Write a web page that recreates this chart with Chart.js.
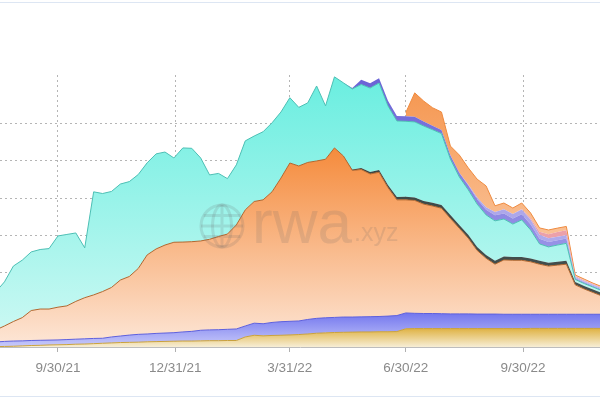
<!DOCTYPE html>
<html>
<head>
<meta charset="utf-8">
<script src="https://cdn.jsdelivr.net/npm/chart.js@4.4.0/dist/chart.umd.min.js"></script>
<style>
  html, body { margin: 0; padding: 0; background: #fff; }
  #wrap { width: 600px; height: 399px; }
</style>
</head>
<body>
<div id="wrap"><canvas id="activeLoans" width="600" height="399"></canvas></div>
<script>
// weekly snapshots, active loans in $M per protocol (stack order bottom -> top)
const weekDates = [
  '2021-08-12','2021-08-19','2021-08-26','2021-09-02','2021-09-09','2021-09-16','2021-09-23','2021-09-30',
  '2021-10-07','2021-10-14','2021-10-21','2021-10-28','2021-11-04','2021-11-11','2021-11-18','2021-11-25',
  '2021-12-02','2021-12-09','2021-12-16','2021-12-23','2021-12-30','2022-01-06','2022-01-13','2022-01-20',
  '2022-01-27','2022-02-03','2022-02-10','2022-02-17','2022-02-24','2022-03-03','2022-03-10','2022-03-17',
  '2022-03-24','2022-03-31','2022-04-07','2022-04-14','2022-04-21','2022-04-28','2022-05-05','2022-05-12',
  '2022-05-19','2022-05-26','2022-06-02','2022-06-09','2022-06-16','2022-06-23','2022-06-30','2022-07-07',
  '2022-07-14','2022-07-21','2022-07-28','2022-08-04','2022-08-11','2022-08-18','2022-08-25','2022-09-01',
  '2022-09-08','2022-09-15','2022-09-22','2022-09-29','2022-10-06','2022-10-13','2022-10-20','2022-10-27',
  '2022-11-03','2022-11-10','2022-11-17','2022-11-24','2022-12-01'
];
const quarterTicks = ['2021-09-30', '2021-12-31', '2022-03-31', '2022-06-30', '2022-09-30'];

const goldLoans = [2,3,4,6,8,9,11,12,13,15, 16,18,20,22,24,25,26,28,29,30, 31,32,32,33,34,34,35,35,54,63,
  60,62,63,65,67,70,74,76,78,79, 80,81,81,82,82,83,98,99,99,99, 99,99,99,99,99,99,99,99,99,99,
  100,100,100,100,100,100,100,100,100];
const blueLoans = [25,27,28,27,27,27,26,26,27,27, 28,28,27,32,35,39,42,42,44,45, 46,49,52,57,58,59,60,62,59,65,
  65,70,73,73,73,78,80,81,81,82, 81,81,82,82,84,86,85,82,81,81, 80,79,79,79,78,78,78,77,77,77,
  76,76,76,76,76,76,76,76,76];
const orangeLoans = [64,83,105,125,161,168,167,176,181,203, 221,234,251,266,301,315,354,425,454,473,
  486,483,482,480,487,501,512,559,624,654, 666,702,772,851,833,844,846,852,911,866,
  788,792,767,775,691,622,608,607,588,578, 567,513,460,407,342,300,268,292,290,290,
  282,269,259,264,269,158,136,117,98];
const darkLoans = [0,0,0,0,0,0,0,0,0,0, 0,0,0,0,0,0,0,0,0,0, 0,0,0,0,0,0,0,0,0,0, 0,0,0,0,0,0,0,0,0,0,
  5,8,10,12,14,15,16,16,17,17, 17,18,18,18,18,18,18,18,18,18, 18,18,18,18,18,16,16,16,16];
const cyanLoans = [204,237,298,309,315,320,325,383,384,368, 268,554,527,516,516,510,505,495,511,500,
  453,506,502,446,346,339,298,323,371,352, 366,371,355,351,315,320,403,287,382,393,
  433,449,452,468,425,409,406,406,403,393, 384,301,258,242,231,215,215,202,177,199,
  153,91,85,90,94,13,13,13,13];
const purpleLoans = [0,0,0,0,0,0,0,0,0,0, 0,0,0,0,0,0,0,0,0,0, 0,0,0,0,0,0,0,0,0,0, 0,0,0,0,0,0,0,0,0,0,
  5,25,25,25,27,27,27,27,24,21, 19,21,22,24,26,28,30,30,30,30, 30,28,26,26,26,8,8,7,7];
const lavenderLoans = [0,0,0,0,0,0,0,0,0,0, 0,0,0,0,0,0,0,0,0,0, 0,0,0,0,0,0,0,0,0,0, 0,0,0,0,0,0,0,0,0,0,
  0,0,0,0,0,0,0,0,0,0, 0,0,0,5,10,13,18,22,24,26, 25,22,20,18,18,5,5,5,5];
const pinkLoans = [0,0,0,0,0,0,0,0,0,0, 0,0,0,0,0,0,0,0,0,0, 0,0,0,0,0,0,0,0,0,0, 0,0,0,0,0,0,0,0,0,0,
  0,0,0,0,0,0,0,0,0,0, 0,0,0,0,0,0,0,0,0,3, 8,15,22,26,27,5,5,4,4];
const topOrangeLoans = [null,null,null,null,null,null,null,null,null,null, null,null,null,null,null,null,null,null,null,null,
  null,null,null,null,null,null,null,null,null,null, null,null,null,null,null,null,null,null,null,null,
  null,null,null,null,null,null,20,129,110,97, 97,49,96,89,98,115,33,34,32,32,
  28,21,23,21,20,6,6,5,5];

const xMin = Date.UTC(2021, 7, 15, 12);
const xMax = Date.UTC(2022, 10, 29, 10);
const yMax = 1462;

// layers that start later get no outline, otherwise the empty part draws a line
const layers = [
  { label: 'gold',       data: goldLoans,      top: '#dfb243', bottom: '#f7eed6', line: '#c9a13d', width: 1 },
  { label: 'blue',       data: blueLoans,      top: '#7276ee', bottom: '#c9cbfa', line: '#5e60dc', width: 1 },
  { label: 'orange',     data: orangeLoans,    top: '#f58b3c', bottom: '#fde7d8', line: '#b0672f', width: 1 },
  { label: 'dark',       data: darkLoans,      top: '#3a4645', bottom: '#475352', line: '#2f3a39', width: 0 },
  { label: 'cyan',       data: cyanLoans,      top: '#6aeee0', bottom: '#d0f9f4', line: '#4cbfb4', width: 1 },
  { label: 'purple',     data: purpleLoans,    top: '#6a63d6', bottom: '#b2aef0', line: '#5048c0', width: 0 },
  { label: 'lavender',   data: lavenderLoans,  top: '#a29be6', bottom: '#b8b3ee', line: '#7a73d8', width: 0 },
  { label: 'pink',       data: pinkLoans,      top: '#e8939d', bottom: '#eeaab2', line: '#e0606e', width: 0 },
  { label: 'top orange', data: topOrangeLoans, top: '#f5944c', bottom: '#fde0c8', line: '#ef8b40', width: 1 }
];

function bandFill(chart, s, peak) {
  const area = chart.chartArea;
  if (!area) return s.top;
  const y0 = chart.scales.y.getPixelForValue(peak);
  const g = chart.ctx.createLinearGradient(0, y0, 0, area.bottom);
  g.addColorStop(0, s.top);
  g.addColorStop(1, s.bottom);
  return g;
}

// running totals so each gradient starts at the top of its own band
const running = weekDates.map(() => 0);
const datasets = layers.map((s, idx) => {
  let peak = 0;
  s.data.forEach((v, i) => { running[i] += v || 0; peak = Math.max(peak, running[i]); });
  return {
    label: s.label,
    data: weekDates.map((d, i) => ({ x: Date.parse(d), y: s.data[i] })),
    fill: idx === 0 ? 'origin' : '-1',
    borderColor: s.line,
    borderWidth: s.width,
    backgroundColor: c => bandFill(c.chart, s, peak)
  };
});

function fmtDate(ms) {
  const d = new Date(ms);
  return (d.getUTCMonth() + 1) + '/' + d.getUTCDate() + '/' + String(d.getUTCFullYear()).slice(2);
}

const watermark = {
  id: 'watermark',
  afterDatasetsDraw(chart) {
    const ctx = chart.ctx;
    ctx.save();
    ctx.globalAlpha = 0.16;
    ctx.strokeStyle = '#666';
    ctx.fillStyle = '#666';
    ctx.lineWidth = 3;
    const cx = 222, cy = 226, r = 21;
    ctx.beginPath(); ctx.arc(cx, cy, r, 0, Math.PI * 2); ctx.stroke();
    ctx.beginPath(); ctx.ellipse(cx, cy, r * 0.45, r, 0, 0, Math.PI * 2); ctx.stroke();
    ctx.beginPath();
    ctx.moveTo(cx, cy - r); ctx.lineTo(cx, cy + r);
    ctx.moveTo(cx - r, cy); ctx.lineTo(cx + r, cy);
    ctx.moveTo(cx - r * 0.87, cy - r * 0.5); ctx.lineTo(cx + r * 0.87, cy - r * 0.5);
    ctx.moveTo(cx - r * 0.87, cy + r * 0.5); ctx.lineTo(cx + r * 0.87, cy + r * 0.5);
    ctx.stroke();
    ctx.textBaseline = 'alphabetic';
    ctx.font = '62px "Liberation Sans", Arial, sans-serif';
    ctx.fillText('rwa', 252, 243);
    ctx.font = '25px "Liberation Sans", Arial, sans-serif';
    ctx.fillText('.xyz', 354, 241);
    ctx.restore();
  }
};

const frame = {
  id: 'frame',
  afterDraw(chart) {
    const ctx = chart.ctx;
    ctx.save();
    ctx.strokeStyle = '#dde6f3';
    ctx.lineWidth = 1;
    ctx.beginPath();
    ctx.moveTo(0, 2.5); ctx.lineTo(600, 2.5);
    ctx.moveTo(0, 396.5); ctx.lineTo(600, 396.5);
    ctx.stroke();
    ctx.restore();
  }
};

new Chart(document.getElementById('activeLoans'), {
  type: 'line',
  data: { datasets },
  options: {
    responsive: false,
    animation: false,
    devicePixelRatio: 1,
    layout: { padding: { top: 75, left: 0, right: 0, bottom: 0 } },
    elements: { point: { radius: 0 }, line: { tension: 0 } },
    plugins: { legend: { display: false }, tooltip: { enabled: false } },
    scales: {
      x: {
        type: 'linear',
        min: xMin,
        max: xMax,
        z: 1,
        afterFit: s => { s.height = 52; },
        afterBuildTicks: s => { s.ticks = quarterTicks.map(d => ({ value: Date.parse(d) })); },
        ticks: {
          autoSkip: false,
          maxRotation: 0,
          padding: 8,
          color: '#8a8a8a',
          font: { family: '"Liberation Sans", Arial, sans-serif', size: 13.5 },
          callback: v => fmtDate(v)
        },
        grid: {
          color: 'rgba(90,90,90,0.45)',
          tickColor: '#b0b0b0',
          tickLength: 5,
          tickBorderDash: []
        },
        border: { display: true, color: '#bdbdbd', dash: [2, 3] }
      },
      y: {
        stacked: true,
        min: 0,
        max: yMax,
        z: 1,
        afterFit: s => { s.width = 0; },
        ticks: { display: false, stepSize: 200 },
        grid: {
          drawTicks: false,
          color: c => (c.tick && c.tick.value > 0 && c.tick.value % 200 === 0) ? 'rgba(90,90,90,0.45)' : 'rgba(0,0,0,0)'
        },
        border: { display: false, dash: [2, 3] }
      }
    }
  },
  plugins: [watermark, frame]
});
</script>
</body>
</html>
